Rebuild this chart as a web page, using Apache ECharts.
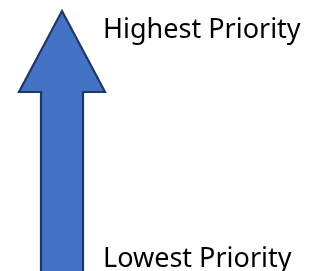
<!DOCTYPE html>
<html>
<head>
<meta charset="utf-8">
<style>
  html, body { margin: 0; padding: 0; background: #fff; }
  #main { width: 310px; height: 271px; }
</style>
<script src="https://cdn.jsdelivr.net/npm/echarts@6/dist/echarts.min.js"></script>
</head>
<body>
<div id="main"></div>
<script>
// priority scale: bottom of the arrow = lowest, tip = highest
var levelNames = ['Lowest Priority', 'Highest Priority'];
var levelValues = [0, 1];

var chart = echarts.init(document.getElementById('main'), null, { renderer: 'canvas' });

var arrowX = 62;   // horizontal position of the arrow on the hidden x axis
var labelX = 103;  // where the labels start

function renderArrow(params, api) {
    var base = api.coord([arrowX, api.value(0)]);
    var tip = api.coord([arrowX, api.value(1)]);
    var headLen = 81, headHalf = 43, shaftHalf = 21;
    var bottom = base[1] + 12; // run the shaft off the bottom edge
    var hy = tip[1] + headLen;
    return {
        type: 'polygon',
        shape: {
            points: [
                [tip[0], tip[1]],
                [tip[0] + headHalf, hy],
                [tip[0] + shaftHalf, hy],
                [tip[0] + shaftHalf, bottom],
                [tip[0] - shaftHalf, bottom],
                [tip[0] - shaftHalf, hy],
                [tip[0] - headHalf, hy]
            ]
        },
        style: { fill: '#4472C4', stroke: '#1F3864', lineWidth: 2.2, lineJoin: 'miter' }
    };
}

function renderLabel(params, api) {
    var p = api.coord([labelX, api.value(1)]);
    var dy = api.value(1) === 1 ? 19 : -8;
    return {
        type: 'text',
        style: {
            text: levelNames[params.dataIndex],
            x: p[0],
            y: p[1] + dy,
            font: '27px "Noto Sans"',
            fill: '#000000',
            align: 'left',
            verticalAlign: 'middle'
        }
    };
}

var labelData = [];
for (var i = 0; i < levelNames.length; i++) {
    labelData.push([labelX, levelValues[i]]);
}

var option = {
    animation: false,
    grid: { left: 0, right: 0, top: 11, bottom: 4 },
    xAxis: { type: 'value', min: 0, max: 310, show: false },
    yAxis: { type: 'value', min: 0, max: 1, show: false },
    series: [
        {
            type: 'custom',
            renderItem: renderArrow,
            clip: false,
            data: [[levelValues[0], levelValues[1]]]
        },
        {
            type: 'custom',
            renderItem: renderLabel,
            clip: false,
            data: labelData
        }
    ]
};

chart.setOption(option);
</script>
</body>
</html>
